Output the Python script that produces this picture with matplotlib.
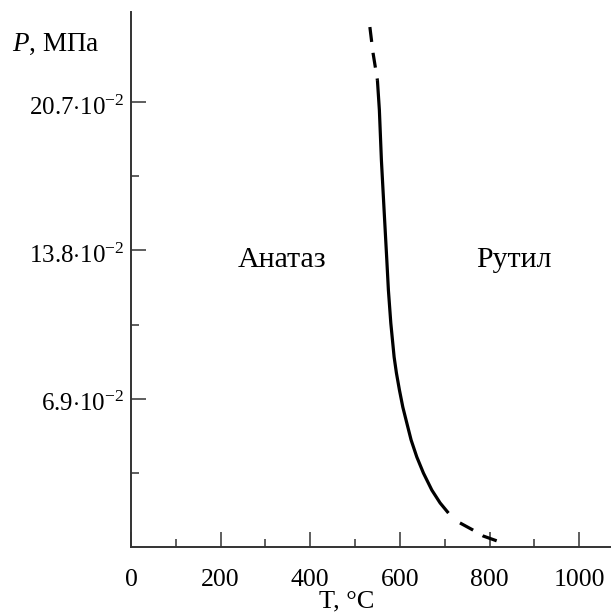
import matplotlib
matplotlib.use('Agg')
import matplotlib.pyplot as plt
import matplotlib.transforms as mtransforms
from matplotlib.ticker import FixedLocator

plt.rcParams['font.family'] = ['Liberation Serif', 'DejaVu Serif']
plt.rcParams['mathtext.fontset'] = 'custom'
plt.rcParams['mathtext.rm'] = 'Liberation Serif'
plt.rcParams['mathtext.it'] = 'Liberation Serif:italic'
plt.rcParams['lines.scale_dashes'] = False

# phase boundary anatase -> rutile
# upper dashed (extrapolated) part
T_top = [533, 540, 549.8]
P_top = [24.2, 23.0, 21.73]
# solid part
T_mid = [549.8, 554.2, 558.7, 564.7, 570.8, 574.3, 579.7, 587.1, 592.2,
         598.9, 606.5, 615.4, 625.0, 637.7, 652.5, 671.2, 689.7, 708.3]
P_mid = [21.73, 20.33, 18.01, 15.68, 13.35, 11.96, 10.42, 8.84, 8.10,
         7.31, 6.51, 5.77, 4.98, 4.19, 3.44, 2.65, 2.05, 1.58]
# lower dashed (extrapolated) part
T_bot = [734, 763, 786, 817]
P_bot = [1.12, 0.79, 0.51, 0.28]

x_major = [0, 200, 400, 600, 800, 1000]
x_minor = [100, 300, 500, 700, 900]
y_major = [6.9, 13.8, 20.7]
y_minor = [3.45, 10.35, 17.25]
y_labels = [r'$6.9{\cdot}10^{-2}$', r'$13.8{\cdot}10^{-2}$', r'$20.7{\cdot}10^{-2}$']

fig = plt.figure(figsize=(6.11, 6.12), dpi=100)
ax = fig.add_axes([131 / 611, 1 - 547 / 612, 480 / 611, 535 / 612])

dash = (0, (10.8, 7.9))
ax.plot(T_top, P_top, color='black', lw=2.3, linestyle=dash)
ax.plot(T_mid, P_mid, color='black', lw=2.3, solid_capstyle='butt',
        solid_joinstyle='round')
ax.plot(T_bot, P_bot, color='black', lw=2.3, linestyle=dash)

ax.set_xlim(0, 1071)
ax.set_ylim(0, 24.9)

for s in ['top', 'right']:
    ax.spines[s].set_visible(False)
for s in ['left', 'bottom']:
    ax.spines[s].set_color('#333333')
    ax.spines[s].set_linewidth(1.4)

ax.xaxis.set_major_locator(FixedLocator(x_major))
ax.xaxis.set_minor_locator(FixedLocator(x_minor))
ax.yaxis.set_major_locator(FixedLocator(y_major))
ax.yaxis.set_minor_locator(FixedLocator(y_minor))
ax.set_yticklabels(y_labels)

ax.tick_params(which='major', direction='in', length=10.5, width=1.1,
               color='#333333')
ax.tick_params(which='minor', direction='in', length=6, width=1.1,
               color='#333333')
ax.tick_params(axis='x', which='major', pad=16, labelsize=18.5)
ax.tick_params(axis='y', which='major', pad=5, labelsize=18)

# y labels hang below their ticks in the original
off = mtransforms.ScaledTranslation(0, 5 / 72, fig.dpi_scale_trans)
for lbl in ax.get_yticklabels():
    lbl.set_va('top')
    lbl.set_transform(lbl.get_transform() + off)

ax.text(338, 13.04, 'Анатаз', fontsize=21.5, ha='center', va='baseline')
ax.text(855, 13.04, 'Рутил', fontsize=21.5, ha='center', va='baseline')

fig.text(12 / 611, 1 - 50.7 / 612, r'$\mathit{P}$, МПа', fontsize=19.5,
         ha='left', va='baseline')
fig.text(346.5 / 611, 1 - 607 / 612, 'T, °C', fontsize=19,
         ha='center', va='baseline')

fig.savefig('out.png', dpi=100)
